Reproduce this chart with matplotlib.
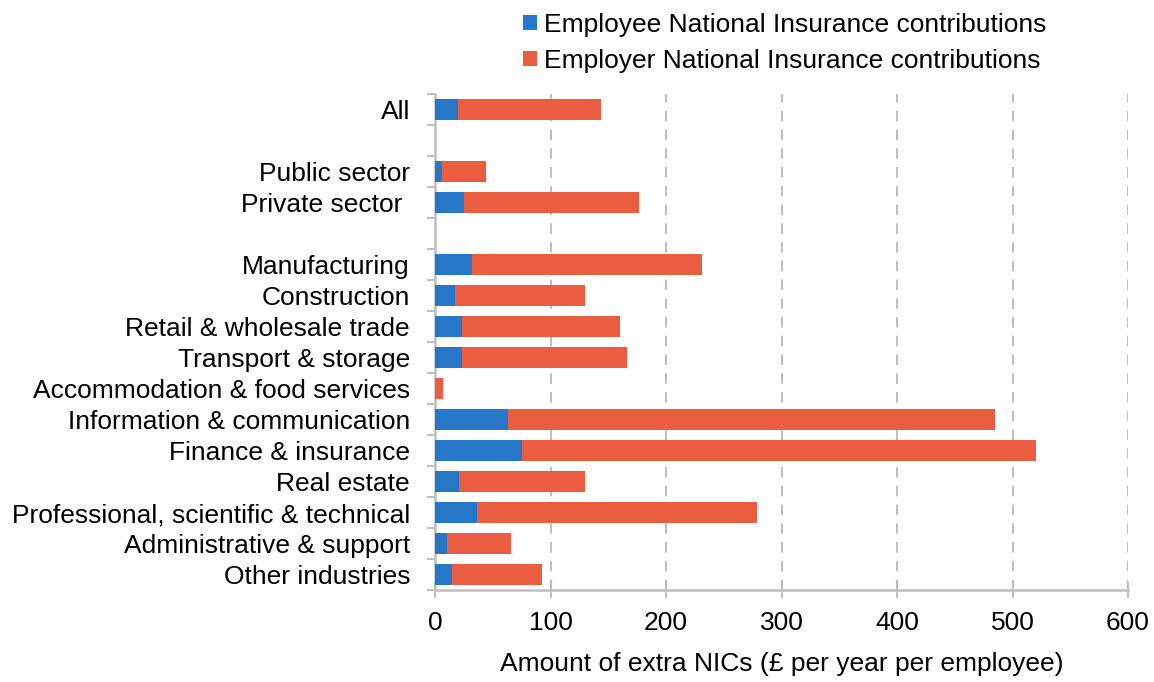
import matplotlib
matplotlib.use("Agg")
import matplotlib.pyplot as plt
import numpy as np

plt.rcParams['font.family'] = ['Liberation Sans', 'DejaVu Sans']

# Rows in display order; None marks a blank spacer row
categories = ["All", None, "Public sector", "Private sector ", None,
              "Manufacturing", "Construction", "Retail & wholesale trade",
              "Transport & storage", "Accommodation & food services",
              "Information & communication", "Finance & insurance",
              "Real estate", "Professional, scientific & technical",
              "Administrative & support", "Other industries"]

employee = [20, None, 6, 25, None,
            32, 17, 23, 23, 0,
            63, 75, 21, 36, 10, 15]
employer = [124, None, 38, 152, None,
            199, 113, 137, 143, 7,
            422, 445, 109, 243, 56, 78]

x_ticks = [0, 100, 200, 300, 400, 500, 600]
blue = "#2677C8"
red = "#EB5D41"
grey = "#BFBFBF"
fs = 19

fig = plt.figure(figsize=(11.54, 6.82), dpi=100)
ax = fig.add_axes([435 / 1154, 1 - 590 / 682, (1128 - 435) / 1154, (590 - 94) / 682])

n = len(categories)
ypos = np.arange(n)
rows = [i for i, c in enumerate(categories) if c is not None]
emp = np.array([employee[i] for i in rows], dtype=float)
er = np.array([employer[i] for i in rows], dtype=float)
yy = ypos[rows]

h1 = ax.barh(yy, emp, height=0.67, color=blue, label="Employee National Insurance contributions", zorder=3)
h2 = ax.barh(yy, er, left=emp, height=0.67, color=red, label="Employer National Insurance contributions", zorder=3)

ax.set_ylim(n - 0.5, -0.5)
ax.set_xlim(0, 600)

ax.set_yticks(yy)
ax.set_yticklabels([categories[i] for i in rows], fontsize=fs)
ax.tick_params(axis='y', which='major', length=0, pad=18)
ax.set_yticks(np.arange(-0.5, n, 1.0), minor=True)
ax.tick_params(axis='y', which='minor', length=6, width=1.5, color=grey, direction='out')

ax.set_xticks(x_ticks)
ax.set_xticklabels([str(t) for t in x_ticks], fontsize=fs)
ax.tick_params(axis='x', length=12, width=1.5, color=grey, direction='inout', pad=9)

for s in ['top', 'right']:
    ax.spines[s].set_visible(False)
for s in ['left', 'bottom']:
    ax.spines[s].set_color(grey)
    ax.spines[s].set_linewidth(1.8)

ax.xaxis.grid(True, linestyle=(0, (5, 4)), color=grey, linewidth=1.5, zorder=0)
ax.set_axisbelow(True)

ax.set_xlabel("Amount of extra NICs (£ per year per employee)", fontsize=fs, labelpad=12)

fig.legend(handles=[h1, h2], loc='upper left', bbox_to_anchor=(523 / 1154, 1 - 13 / 682),
           frameon=False, fontsize=fs, handlelength=0.53, handleheight=0.53,
           handletextpad=0.25, labelspacing=0.45, borderaxespad=0, borderpad=0)

fig.savefig("out.png", dpi=100)
